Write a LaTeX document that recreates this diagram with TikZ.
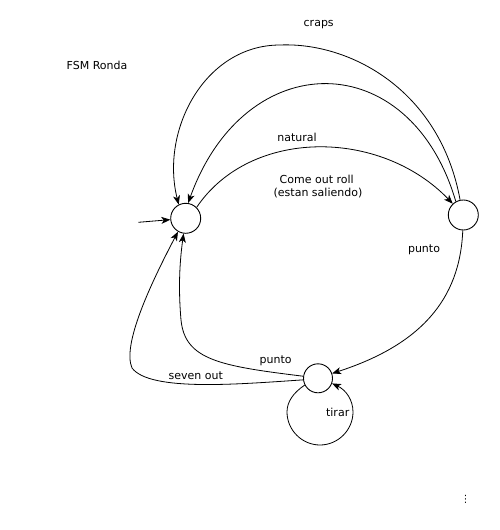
\documentclass[tikz,border=0pt]{standalone}
\usepackage{fontspec}
\setmainfont{DejaVu Sans}
\usetikzlibrary{arrows.meta}
\begin{document}
\begin{tikzpicture}[x=1pt,y=-1pt,
  state/.style={draw,circle,minimum size=30pt,inner sep=0pt,line width=0.9pt},
  edge/.style={draw,line width=0.8pt,-{Stealth[length=9pt,width=7pt,inset=2.5pt]}},
  lbl/.style={inner sep=0pt,font=\fontsize{11}{13}\selectfont}]
\useasboundingbox (0,0) rectangle (500,530);
\node[state] (A) at (185.7,218.3) {};
\node[state] (B) at (463.3,215) {};
\node[state,minimum size=29pt] (C) at (318,378.3) {};
\coordinate (init) at (138.3,222.3);
% labels
\node[lbl] (fsm) at (97,65) {FSM Ronda};
\node[lbl] (craps) at (318.7,25) {craps};
\node[lbl] (natural) at (297,137.3) {natural};
\node[lbl] (come) at (316.7,179.3) {Come out roll};
\node[lbl] (estan) at (318,193.3) {(estan saliendo)};
\node[lbl] (puntoB) at (424,250) {punto};
\node[lbl] (puntoC) at (275.7,361) {punto};
\node[lbl] (seven) at (195.7,376) {seven out};
\node[lbl] (tirar) at (337.7,412.7) {tirar};
\node[inner sep=0pt,font=\fontsize{10}{11}\selectfont] (dots) at (465.7,499) {⋮};
% edges
\draw[edge] (init) -- (A.185);
\draw[edge] (A.45) .. controls (250,128) and (380,128) .. (B.133);
\draw[edge] (B.102) .. controls (440,90) and (350,42) .. (280,45)
   .. controls (205,45) and (160,130) .. (A.117);
\draw[edge] (B.119) .. controls (410,45) and (245,45) .. (A.81);
\draw[edge] (B.268) .. controls (460,300) and (420,345) .. (C.19);
\draw[edge] (C.207) .. controls (293,393) and (287,402) .. (287,412)
   .. controls (287,430) and (302,445) .. (320,445)
   .. controls (338,445) and (353,430) .. (353,412)
   .. controls (353,400) and (346,390) .. (C.340);
\draw[edge] (C.172) .. controls (220,366) and (185,360) .. (181,320)
   .. controls (178,285) and (180,260) .. (A.262);
\draw[edge] (C.186) .. controls (240,384) and (150,392) .. (132,368)
   .. controls (122,345) and (150,285) .. (A.240);
\end{tikzpicture}
\end{document}
